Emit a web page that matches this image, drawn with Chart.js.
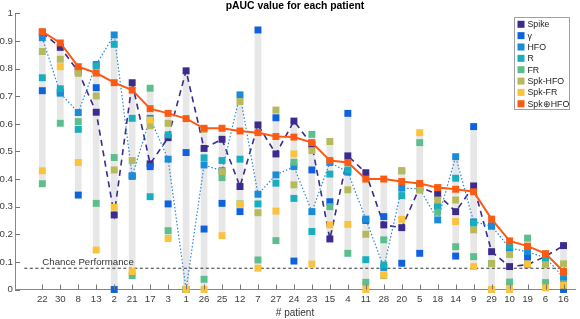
<!DOCTYPE html>
<html>
<head>
<meta charset="utf-8">
<script src="https://cdn.jsdelivr.net/npm/chart.js@4.4.1/dist/chart.umd.min.js"></script>
<style>
  html, body { margin: 0; padding: 0; background: #fff; overflow: hidden; }
  #wrap { position: relative; width: 580px; height: 319px; }
</style>
</head>
<body>
<div id="wrap"><canvas id="c" width="580" height="319"></canvas></div>
<script>
const patients = ['22','30','8','13','2','21','17','3','1','26','25','12','7','27','24','23','15','4','11','28','20','5','18','14','9','29','10','19','6','16'];

const spike      = [0.93,0.877,0.79,0.642,0.270,0.749,0.455,0.55,0.792,0.511,0.544,0.373,0.596,0.491,0.610,0.525,0.183,0.484,0.423,0.234,0.224,0.37,0.345,0.282,0.375,0.137,0.083,0.09,0.12,0.159];
const gamma      = [0.720,0.715,0.342,0.731,0,0.41,0.445,0.310,0.496,0.219,0.312,0.282,0.940,0.622,0.103,0.433,0.318,0.638,0.25,0.264,0.095,0.131,0.30,0.121,0.590,0.23,0.15,0.117,0.107,0];
const hfo        = [0.912,0.711,0.641,0.815,0.922,0.412,0.62,0.472,0,0.451,0.43,0.705,0.345,0.415,0.445,0.282,0.46,0.425,0.255,0.08,0.367,0.365,0.252,0.481,0.245,0.230,0.15,0.137,0.115,0.044];
const rSeries    = [0.767,0.727,0.580,0.81,0.888,0.620,0.336,0.560,0,0.477,0.467,0.472,0.310,0.385,0.330,0.210,0.418,0.433,0.108,0.089,0.340,0.37,0.30,0.403,0.240,0.094,0.157,0.155,0.107,0.06];
const fr         = [0.383,0.602,0.608,0.312,0.478,0.050,0.729,0.213,0,0.037,0.405,0.31,0.107,0.177,0.461,0.562,0.300,0.131,0.026,0.18,0.43,0.532,0.28,0.155,0.119,0,0.027,0.186,0.025,0.02];
const spkHfo     = [0.862,0.834,0.783,0.701,0.433,0.467,0.593,0.602,0,0.58,0.427,0.681,0.278,0.650,0.379,0.503,0.536,0.361,0.20,0.05,0.43,0.36,0.324,0.324,0.216,0.094,0.127,0.092,0.090,0.093];
const spkFr      = [0.430,0.807,0.460,0.143,0.298,0.065,0.614,0.185,0,0,0.195,0.309,0.077,0.284,0.491,0.092,0.234,0.236,0,0.053,0.254,0.568,0.369,0.246,0.083,0,0,0.092,0.006,0.015];
const spkCombHfo = [0.934,0.893,0.807,0.784,0.749,0.722,0.655,0.638,0.619,0.584,0.584,0.574,0.568,0.554,0.552,0.532,0.467,0.460,0.400,0.400,0.391,0.384,0.369,0.363,0.354,0.255,0.176,0.157,0.130,0.065];
const chanceLevel = 0.077;
const yTicks = [0,0.1,0.2,0.3,0.4,0.5,0.6,0.7,0.8,0.9,1];

const seriesNames = ['Spike','\u03B3','HFO','R','FR','Spk-HFO','Spk-FR','Spk\u2295HFO'];
const seriesData = [spike, gamma, hfo, rSeries, fr, spkHfo, spkFr, spkCombHfo];
const colors = ['#3a2b8d','#0f62dd','#1a8bd6','#18aec0','#5cbe8c','#b6ba5c','#fbc23c','#fc5a12'];
const FONT = '"Liberation Sans", Arial, sans-serif';

const pts = arr => arr.map((v, i) => ({x: i + 1, y: v}));
const ranges = patients.map((p, i) => {
  const vals = seriesData.map(s => s[i]);
  return {x: i + 1, y: [Math.min(...vals), Math.max(...vals)]};
});

const datasets = [];
datasets.push({
  type: 'bar', label: 'range', data: ranges, backgroundColor: '#e7e7e7',
  barThickness: 6, order: 20, borderWidth: 0
});
datasets.push({
  type: 'line', label: 'chance', data: [{x: 0, y: chanceLevel}, {x: 30.12, y: chanceLevel}],
  borderColor: '#333', borderWidth: 1, borderDash: [3, 2.5], pointRadius: 0, order: 15
});
seriesData.forEach((s, i) => {
  const ds = {
    type: 'line', label: seriesNames[i], data: pts(s),
    borderColor: colors[i], backgroundColor: colors[i],
    pointStyle: 'rect', pointRadius: 4.9, pointBorderWidth: 0,
    pointBackgroundColor: colors[i], showLine: false, order: 10 - i, clip: false
  };
  if (i === 0) { ds.showLine = true; ds.borderWidth = 1.6; ds.borderDash = [6, 4.5]; }
  if (i === 2) { ds.showLine = true; ds.borderWidth = 1.2; ds.borderDash = [1.5, 2]; ds.borderColor = '#2a86dc'; }
  if (i === 7) { ds.showLine = true; ds.borderWidth = 2; }
  datasets.push(ds);
});

const extras = {
  id: 'extras',
  afterDatasetsDraw(chart) {
    const ctx = chart.ctx, xs = chart.scales.x, ys = chart.scales.y, a = chart.chartArea;
    ctx.save();
    ctx.strokeStyle = '#777'; ctx.lineWidth = 1;
    ctx.beginPath();
    patients.forEach((p, i) => {
      const px = Math.round(xs.getPixelForValue(i + 1)) + 0.5;
      ctx.moveTo(px, a.bottom); ctx.lineTo(px, a.bottom - 5);
    });
    yTicks.forEach(v => {
      const py = Math.round(ys.getPixelForValue(v)) + 0.5;
      ctx.moveTo(a.left, py); ctx.lineTo(a.left + 5, py);
    });
    ctx.stroke();
    ctx.fillStyle = '#333';
    ctx.font = '9.7px ' + FONT;
    ctx.textAlign = 'left'; ctx.textBaseline = 'middle';
    ctx.fillText('Chance Performance', xs.getPixelForValue(1), ys.getPixelForValue(0.097));
    const lx = 514, ly = 17, lw = 55, lh = 92;
    ctx.fillStyle = '#fff'; ctx.fillRect(lx, ly, lw, lh);
    ctx.strokeStyle = '#a0a0a0'; ctx.lineWidth = 1;
    ctx.strokeRect(lx + 0.5, ly + 0.5, lw, lh);
    ctx.font = '8.8px ' + FONT;
    seriesNames.forEach((n, i) => {
      const cy = 24.3 + i * 11.35;
      ctx.fillStyle = colors[i];
      ctx.fillRect(517.5, cy - 3.5, 7, 7);
      ctx.fillStyle = '#222';
      ctx.fillText(n, 527.5, cy + 0.5);
    });
    ctx.restore();
  }
};

new Chart(document.getElementById('c'), {
  data: { datasets },
  options: {
    responsive: false, animation: false,
    layout: { padding: { left: 0, right: 5, top: 0, bottom: 0 } },
    plugins: {
      legend: { display: false },
      tooltip: { enabled: false },
      title: {
        display: true, text: 'pAUC value for each patient', fullSize: false,
        color: '#000', font: { family: FONT, size: 10.4, weight: 'bold', lineHeight: 1 },
        padding: { top: 0.5, bottom: 2.5 }
      }
    },
    scales: {
      x: {
        type: 'linear', min: 0, max: 30.12,
        afterBuildTicks: s => { s.ticks = patients.map((p, i) => ({value: i + 1})); },
        afterFit: s => { s.height = 29.5; },
        ticks: {
          autoSkip: false, maxRotation: 0, padding: 4, color: '#404040',
          font: { family: FONT, size: 9.7 },
          callback: v => patients[v - 1]
        },
        grid: { drawOnChartArea: false, drawTicks: false },
        border: { display: true, color: '#888', width: 1 },
        title: {
          display: true, text: '# patient', color: '#333',
          font: { family: FONT, size: 10 },
          padding: { top: 0, bottom: 0 }
        }
      },
      y: {
        type: 'linear', min: 0, max: 1,
        afterBuildTicks: s => { s.ticks = yTicks.map(v => ({value: v})); },
        afterFit: s => { s.width = 15; },
        ticks: {
          padding: 2, color: '#404040',
          font: { family: FONT, size: 9.7 },
          callback: v => String(Math.round(v * 10) / 10)
        },
        grid: { drawOnChartArea: false, drawTicks: false },
        border: { display: true, color: '#888', width: 1 }
      }
    }
  },
  plugins: [extras]
});
</script>
</body>
</html>
